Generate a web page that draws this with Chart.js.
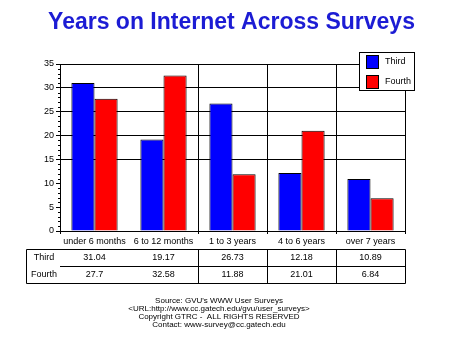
<!DOCTYPE html>
<html>
<head>
<meta charset="utf-8">
<script src="https://cdn.jsdelivr.net/npm/chart.js@4.4.0/dist/chart.umd.min.js"></script>
<style>
  html, body { margin: 0; padding: 0; background: #fff; }
  #wrap { width: 452px; height: 339px; }
</style>
</head>
<body>
<div id="wrap"><canvas id="years_chart" width="452" height="339"></canvas></div>
<script>
// DATA
const categories = ['under 6 months', '6 to 12 months', '1 to 3 years', '4 to 6 years', 'over 7 years'];
const third_values = [31.04, 19.17, 26.73, 12.18, 10.89];
const fourth_values = [27.7, 32.58, 11.88, 21.01, 6.84];
const third_labels = ['31.04', '19.17', '26.73', '12.18', '10.89'];
const fourth_labels = ['27.7', '32.58', '11.88', '21.01', '6.84'];
const series_names = ['Third', 'Fourth'];
const chart_title = 'Years on Internet Across Surveys';
const footer_lines = [
    "Source: GVU's WWW User Surveys",
    '<URL:http://www.cc.gatech.edu/gvu/user_surveys>',
    'Copyright GTRC -  ALL RIGHTS RESERVED',
    'Contact: www-survey@cc.gatech.edu'
];

const BLUE = '#0000ff';
const RED = '#ff0000';
const FONT = 'Arial, "Liberation Sans", sans-serif';


// EXTRAS: title, legend box, minor ticks, data table, footer
const extras_plugin = {
    id: 'extras',
    afterDraw(chart) {
        const ctx = chart.ctx;
        const x = chart.scales.x;
        const y = chart.scales.y;
        const area = chart.chartArea;

        ctx.save();

        // title
        ctx.fillStyle = '#1c1cd4';
        ctx.font = 'bold 23px ' + FONT;
        ctx.textAlign = 'center';
        ctx.textBaseline = 'middle';
        ctx.fillText(chart_title, 231.5, 23);

        // minor y ticks
        ctx.strokeStyle = '#000';
        ctx.lineWidth = 1;
        ctx.beginPath();
        for (let v = 1; v < 35; v++) {
            if (v % 5 === 0) continue;
            const py = Math.round(y.getPixelForValue(v)) + 0.5;
            ctx.moveTo(area.left - 2, py);
            ctx.lineTo(area.left, py);
        }
        ctx.stroke();

        // legend
        ctx.fillStyle = '#fff';
        ctx.fillRect(359, 52, 55, 38);
        ctx.strokeRect(359.5, 52.5, 55, 38);
        const colors = [BLUE, RED];
        ctx.font = '9px ' + FONT;
        ctx.textAlign = 'left';
        series_names.forEach((name, i) => {
            const top = 55 + i * 20;
            ctx.fillStyle = colors[i];
            ctx.fillRect(366, top, 12, 13);
            ctx.strokeStyle = '#000';
            ctx.strokeRect(366.5, top + 0.5, 12, 13);
            ctx.fillStyle = '#000';
            ctx.fillText(name, 385, top + 7);
        });

        // data table
        const half = (x.getPixelForValue(1) - x.getPixelForValue(0)) / 2;
        const t_left = 26, t_top = 249, t_mid = 266, t_bottom = 283;
        ctx.strokeStyle = '#000';
        ctx.beginPath();
        ctx.rect(t_left + 0.5, t_top + 0.5, area.right - t_left, t_bottom - t_top);
        ctx.moveTo(area.left, t_mid + 0.5);
        ctx.lineTo(area.right, t_mid + 0.5);
        for (let i = 2; i < categories.length; i++) {
            const px = Math.round(x.getPixelForValue(i) - half) + 0.5;
            ctx.moveTo(px, t_top);
            ctx.lineTo(px, t_bottom);
        }
        ctx.stroke();

        ctx.fillStyle = '#000';
        ctx.font = '9px ' + FONT;
        ctx.textAlign = 'center';
        const row_y = [257.5, 274.5];
        const rows = [third_labels, fourth_labels];
        series_names.forEach((name, r) => {
            ctx.fillText(name, (t_left + area.left) / 2 + 1, row_y[r]);
            rows[r].forEach((label, i) => {
                ctx.fillText(label, x.getPixelForValue(i), row_y[r]);
            });
        });

        // footer
        ctx.font = '8px ' + FONT;
        footer_lines.forEach((line, i) => {
            ctx.fillText(line, 219, 301 + i * 7.8);
        });

        ctx.restore();
    }
};


// CHART
const chart_data = {
    labels: categories,
    datasets: [{
        label: series_names[0],
        data: third_values,
        backgroundColor: BLUE,
        borderColor: '#000',
        borderWidth: 1,
        borderSkipped: 'bottom'
    }, {
        label: series_names[1],
        data: fourth_values,
        backgroundColor: RED,
        borderColor: '#000',
        borderWidth: 1,
        borderSkipped: 'bottom'
    }]
};

const config = {
    type: 'bar',
    data: chart_data,
    plugins: [extras_plugin],
    options: {
        responsive: false,
        animation: false,
        datasets: {
            bar: {
                categoryPercentage: 0.67,
                barPercentage: 1.0
            }
        },
        layout: {
            padding: { left: 0, right: 47, top: 64, bottom: 0 }
        },
        plugins: {
            legend: { display: false },
            title: { display: false },
            tooltip: { enabled: false }
        },
        scales: {
            x: {
                afterFit: (scale) => { scale.height = 108; },
                grid: {
                    offset: true,
                    color: (c) => c.index === 1 ? 'rgba(0,0,0,0)' : '#000',
                    tickLength: 3,
                    lineWidth: 1
                },
                border: { color: '#000', width: 1 },
                ticks: {
                    color: '#000',
                    padding: 2,
                    maxRotation: 0,
                    autoSkip: false,
                    font: { family: FONT, size: 9 }
                }
            },
            y: {
                min: 0,
                max: 35,
                afterFit: (scale) => { scale.width = 60; },
                grid: {
                    color: (c) => c.tick && c.tick.value >= 15 ? '#000' : 'rgba(0,0,0,0)',
                    tickColor: '#000',
                    tickLength: 4,
                    lineWidth: 1
                },
                border: { color: '#000', width: 1 },
                ticks: {
                    stepSize: 5,
                    color: '#000',
                    padding: 2,
                    font: { family: FONT, size: 9 }
                }
            }
        }
    }
};

const years_chart = new Chart(document.getElementById('years_chart'), config);
</script>
</body>
</html>
